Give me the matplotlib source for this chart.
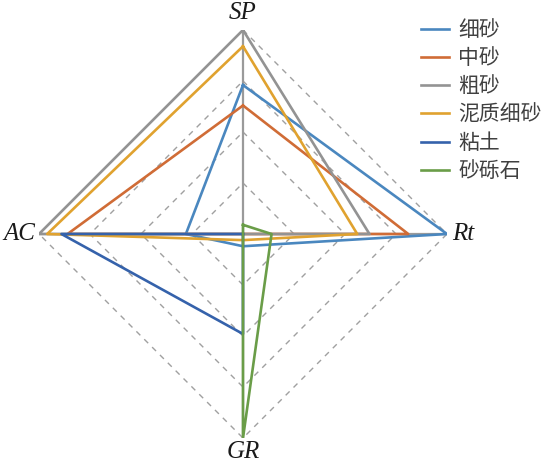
import numpy as np
import matplotlib
matplotlib.use("Agg")
import matplotlib.pyplot as plt

plt.rcParams['font.family'] = ['Noto Sans CJK SC', 'DejaVu Sans']

axes_labels = ["SP", "Rt", "GR", "AC"]
series_names = ["细砂", "中砂", "粗砂", "泥质细砂", "粘土", "砂砾石"]
xisha = [0.73, 1.00, 0.06, 0.28]
zhongsha = [0.63, 0.81, 0.00, 0.86]
cusha = [1.00, 0.62, 0.00, 1.00]
nizhi = [0.92, 0.56, 0.03, 0.96]
niantu = [0.00, 0.00, 0.49, 0.89]
shaliishi = [0.045, 0.14, 1.00, 0.00]
series_values = [xisha, zhongsha, cusha, nizhi, niantu, shaliishi]
grid_levels = [0.25, 0.5, 0.75, 1.0]
colors = ["#4a87bf", "#d06c36", "#939393", "#e0a22f", "#3562ab", "#6a9d48"]

W, H = 545, 462
fig = plt.figure(figsize=(W / 100, H / 100), dpi=100)
cx, cy, R = 243, 234, 204
ax = fig.add_axes([(cx - R) / W, (H - cy - R) / H, 2 * R / W, 2 * R / H], projection='polar')
ax.set_theta_offset(np.pi / 2)
ax.set_theta_direction(-1)
ax.set_ylim(0, 1)
ax.grid(False)
ax.set_xticks([])
ax.set_yticks([])
ax.spines['polar'].set_visible(False)
ax.patch.set_alpha(0)

n = len(axes_labels)
theta = np.linspace(0, 2 * np.pi, n, endpoint=False)
theta_c = np.append(theta, theta[0])

for lv in grid_levels:
    ax.plot(theta_c, [lv] * (n + 1), color="#a0a0a0", lw=1.0, ls=(0, (4, 4)), zorder=1)
for t in theta:
    ax.plot([t, t], [0, 1], color="#9a9a9a", lw=1.6, zorder=2)

for name, vals, c in zip(series_names, series_values, colors):
    ax.plot(theta_c, vals + [vals[0]], color=c, lw=1.9, label=name, zorder=3)

lab_kw = dict(fontsize=18, family=['Liberation Serif'], style='italic', color='#1a1a1a',
              textcoords='offset points')
ax.annotate("SP", (theta[0], 1), xytext=(0, 4), ha='center', va='bottom', **lab_kw)
ax.annotate("Rt", (theta[1], 1), xytext=(4, 0), ha='left', va='center', **lab_kw)
ax.annotate("GR", (theta[2], 1), xytext=(0, -2), ha='center', va='top', **lab_kw)
ax.annotate("AC", (theta[3], 1), xytext=(-3, 0), ha='right', va='center', **lab_kw)

leg = fig.legend(loc='upper left', bbox_to_anchor=(421 / W, 1 - 19 / H), frameon=False,
                 fontsize=15, handlelength=1.35, handletextpad=0.45, labelspacing=0.3,
                 borderpad=0, borderaxespad=0)
for t in leg.get_texts():
    t.set_color('#404040')

fig.savefig("out.png", dpi=100)
